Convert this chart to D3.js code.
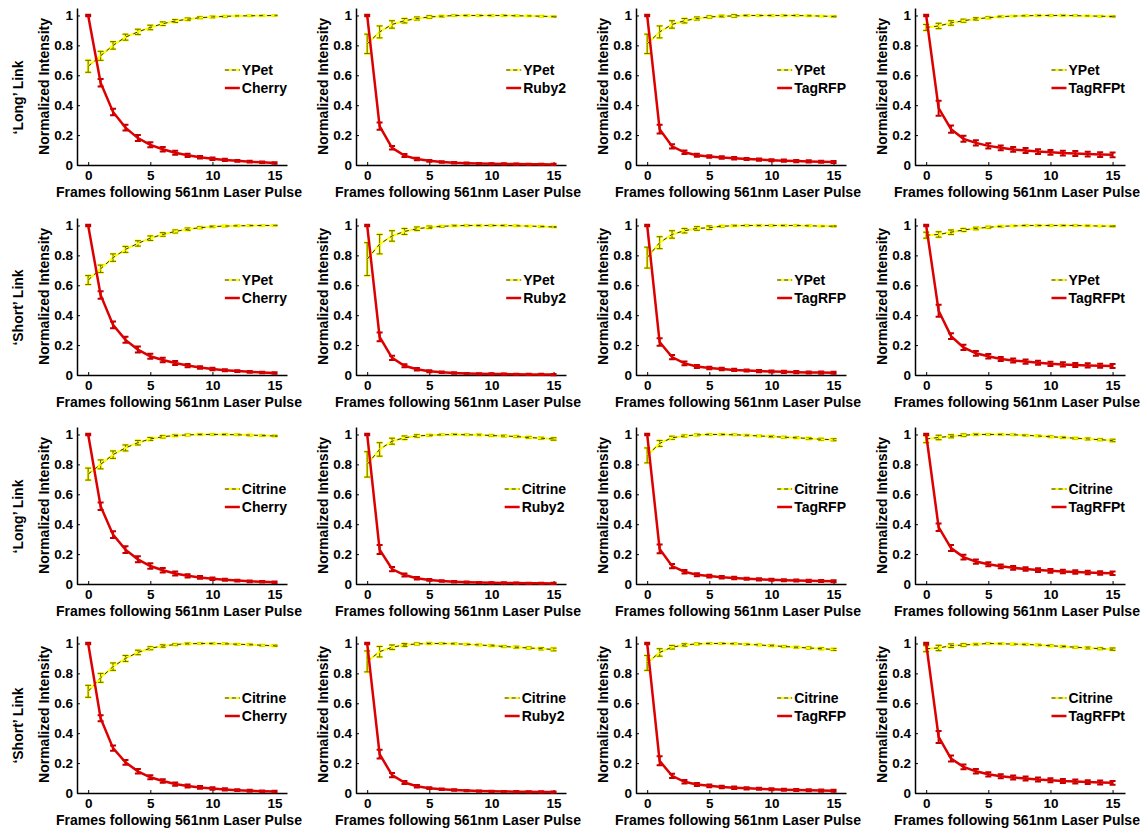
<!DOCTYPE html>
<html>
<head>
<meta charset="utf-8">
<script src="https://cdn.jsdelivr.net/npm/d3@7"></script>
<style>
  body { margin: 0; background: #fff; }
  text { font-family: "Liberation Sans", Arial, sans-serif; font-weight: bold; fill: #000; }
</style>
</head>
<body>
<div id="chart"></div>
<script>
// ---- data ----
var frames = [0,1,2,3,4,5,6,7,8,9,10,11,12,13,14,15];
var rowLabels = ["\u2018Long\u2019 Link", "\u2018Short\u2019 Link", "\u2018Long\u2019 Link", "\u2018Short\u2019 Link"];
var donors = ["YPet", "YPet", "Citrine", "Citrine"];
var acceptors = ["Cherry", "Ruby2", "TagRFP", "TagRFPt"];
var xTicks = [0, 5, 10, 15];
var yTicks = [0, 0.2, 0.4, 0.6, 0.8, 1];

// row 1 : 'Long' link, YPet donor
var donorLongYPet = [
  [0.66,0.73,0.80,0.855,0.89,0.92,0.945,0.963,0.975,0.985,0.99,0.994,0.997,0.998,0.999,1.0],
  [0.81,0.89,0.94,0.965,0.98,0.99,0.995,1.0,1.0,1.0,1.0,1.0,0.998,0.997,0.995,0.992],
  [0.81,0.89,0.94,0.965,0.98,0.99,0.995,0.997,1.0,1.0,1.0,1.0,1.0,0.998,0.996,0.993],
  [0.92,0.93,0.95,0.965,0.977,0.985,0.992,0.996,0.998,1.0,1.0,1.0,0.999,0.997,0.995,0.993]];
var donorErrLongYPet = [
  [0.04,0.03,0.025,0.02,0.018,0.015,0.012,0.01,0.008,0.006,0.005,0.004,0.003,0.003,0.002,0.002],
  [0.065,0.04,0.025,0.015,0.01,0.008,0.005,0.004,0.003,0.003,0.003,0.003,0.003,0.003,0.003,0.003],
  [0.065,0.04,0.025,0.015,0.01,0.007,0.006,0.008,0.004,0.003,0.003,0.003,0.003,0.003,0.003,0.003],
  [0.02,0.018,0.015,0.01,0.008,0.006,0.004,0.003,0.003,0.003,0.003,0.003,0.003,0.003,0.003,0.003]];
var accLongYPet = [
  [1.0,0.55,0.355,0.25,0.18,0.135,0.105,0.082,0.065,0.052,0.042,0.034,0.028,0.022,0.018,0.014],
  [1.0,0.26,0.115,0.063,0.04,0.028,0.02,0.015,0.012,0.01,0.008,0.007,0.006,0.005,0.005,0.004],
  [1.0,0.24,0.125,0.085,0.065,0.057,0.05,0.045,0.04,0.036,0.032,0.029,0.026,0.024,0.022,0.02],
  [1.0,0.38,0.24,0.175,0.148,0.128,0.115,0.104,0.097,0.09,0.085,0.08,0.077,0.073,0.07,0.068]];
var accErrLongYPet = [
  [0.005,0.025,0.022,0.02,0.02,0.017,0.015,0.013,0.011,0.009,0.008,0.007,0.006,0.006,0.005,0.005],
  [0.005,0.025,0.012,0.01,0.008,0.006,0.005,0.005,0.004,0.004,0.004,0.004,0.004,0.004,0.004,0.004],
  [0.005,0.03,0.014,0.012,0.01,0.009,0.008,0.008,0.007,0.007,0.007,0.007,0.007,0.007,0.007,0.007],
  [0.005,0.05,0.025,0.02,0.018,0.017,0.016,0.016,0.016,0.016,0.016,0.016,0.016,0.016,0.016,0.016]];

// row 2 : 'Short' link, YPet donor
var donorShortYPet = [
  [0.635,0.71,0.785,0.84,0.88,0.915,0.94,0.96,0.975,0.985,0.992,0.996,0.998,0.999,1.0,1.0],
  [0.775,0.875,0.93,0.96,0.978,0.988,0.994,0.998,1.0,1.0,1.0,1.0,0.998,0.996,0.993,0.99],
  [0.785,0.885,0.94,0.965,0.98,0.985,0.995,0.998,1.0,1.0,1.0,1.0,1.0,0.998,0.996,0.995],
  [0.935,0.94,0.955,0.97,0.98,0.988,0.994,0.997,1.0,1.0,1.0,1.0,1.0,0.998,0.996,0.995]];
var donorErrShortYPet = [
  [0.03,0.025,0.025,0.02,0.018,0.015,0.012,0.01,0.008,0.006,0.005,0.004,0.003,0.003,0.002,0.002],
  [0.11,0.065,0.035,0.02,0.012,0.008,0.005,0.004,0.003,0.003,0.003,0.003,0.003,0.003,0.003,0.003],
  [0.07,0.04,0.025,0.015,0.012,0.012,0.005,0.004,0.003,0.003,0.003,0.003,0.003,0.003,0.003,0.003],
  [0.02,0.018,0.015,0.01,0.008,0.006,0.004,0.003,0.003,0.003,0.003,0.003,0.003,0.003,0.003,0.003]];
var accShortYPet = [
  [1.0,0.535,0.335,0.235,0.17,0.125,0.1,0.08,0.063,0.05,0.04,0.032,0.026,0.021,0.017,0.014],
  [1.0,0.255,0.115,0.062,0.038,0.025,0.018,0.013,0.01,0.008,0.007,0.006,0.005,0.004,0.004,0.003],
  [1.0,0.22,0.12,0.078,0.057,0.047,0.04,0.034,0.03,0.026,0.023,0.021,0.019,0.017,0.016,0.015],
  [1.0,0.43,0.26,0.185,0.145,0.125,0.107,0.097,0.09,0.082,0.075,0.071,0.067,0.064,0.062,0.06]];
var accErrShortYPet = [
  [0.005,0.025,0.022,0.02,0.02,0.017,0.015,0.013,0.011,0.009,0.008,0.007,0.006,0.006,0.005,0.005],
  [0.005,0.03,0.014,0.01,0.008,0.006,0.005,0.005,0.004,0.004,0.004,0.004,0.004,0.004,0.004,0.004],
  [0.005,0.025,0.014,0.012,0.01,0.009,0.008,0.008,0.007,0.007,0.007,0.007,0.007,0.007,0.007,0.007],
  [0.005,0.04,0.02,0.018,0.016,0.015,0.014,0.014,0.014,0.014,0.014,0.014,0.014,0.014,0.014,0.014]];

// row 3 : 'Long' link, Citrine donor
var donorLongCit = [
  [0.735,0.8,0.865,0.91,0.945,0.97,0.985,0.993,0.997,1.0,1.0,1.0,0.998,0.996,0.993,0.99],
  [0.8,0.9,0.955,0.978,0.99,0.995,0.998,1.0,0.998,0.997,0.993,0.99,0.986,0.98,0.975,0.97],
  [0.86,0.94,0.978,0.99,0.997,1.0,1.0,0.998,0.995,0.99,0.986,0.982,0.978,0.973,0.968,0.965],
  [0.97,0.98,0.988,0.995,1.0,1.0,1.0,0.998,0.995,0.99,0.985,0.98,0.975,0.97,0.965,0.96]];
var donorErrLongCit = [
  [0.04,0.03,0.025,0.02,0.015,0.01,0.008,0.006,0.005,0.004,0.004,0.004,0.004,0.004,0.004,0.004],
  [0.085,0.045,0.02,0.012,0.008,0.005,0.004,0.004,0.004,0.004,0.005,0.005,0.005,0.006,0.006,0.008],
  [0.05,0.02,0.01,0.006,0.005,0.004,0.004,0.004,0.004,0.004,0.005,0.005,0.005,0.006,0.006,0.007],
  [0.025,0.015,0.01,0.008,0.005,0.004,0.004,0.004,0.004,0.004,0.005,0.005,0.005,0.006,0.006,0.008]];
var accLongCit = [
  [1.0,0.52,0.33,0.23,0.165,0.12,0.092,0.07,0.055,0.044,0.035,0.028,0.023,0.018,0.015,0.012],
  [1.0,0.23,0.1,0.06,0.038,0.027,0.02,0.015,0.012,0.01,0.008,0.007,0.006,0.005,0.005,0.004],
  [1.0,0.235,0.12,0.082,0.062,0.053,0.045,0.04,0.035,0.031,0.028,0.025,0.023,0.021,0.02,0.018],
  [1.0,0.38,0.24,0.18,0.15,0.132,0.118,0.108,0.1,0.093,0.088,0.084,0.08,0.077,0.074,0.072]];
var accErrLongCit = [
  [0.005,0.025,0.022,0.022,0.02,0.018,0.015,0.013,0.011,0.009,0.008,0.007,0.006,0.006,0.005,0.005],
  [0.005,0.03,0.014,0.01,0.008,0.006,0.005,0.005,0.004,0.004,0.004,0.004,0.004,0.004,0.004,0.004],
  [0.005,0.03,0.014,0.012,0.01,0.009,0.008,0.008,0.007,0.007,0.007,0.007,0.007,0.007,0.007,0.007],
  [0.005,0.025,0.02,0.016,0.014,0.013,0.012,0.012,0.012,0.012,0.012,0.012,0.012,0.012,0.012,0.012]];

// row 4 : 'Short' link, Citrine donor
var donorShortCit = [
  [0.68,0.77,0.845,0.9,0.94,0.968,0.983,0.993,0.998,1.0,1.0,0.998,0.995,0.992,0.988,0.985],
  [0.88,0.945,0.975,0.99,0.997,1.0,1.0,0.998,0.995,0.99,0.985,0.98,0.975,0.97,0.965,0.96],
  [0.87,0.94,0.975,0.99,0.997,1.0,1.0,0.998,0.995,0.99,0.985,0.98,0.975,0.97,0.965,0.96],
  [0.965,0.97,0.985,0.99,0.995,1.0,0.998,0.996,0.994,0.99,0.985,0.98,0.975,0.97,0.965,0.962]];
var donorErrShortCit = [
  [0.04,0.03,0.025,0.02,0.015,0.01,0.008,0.006,0.005,0.004,0.004,0.004,0.004,0.004,0.004,0.004],
  [0.07,0.035,0.015,0.01,0.006,0.005,0.004,0.004,0.004,0.004,0.005,0.005,0.006,0.006,0.007,0.009],
  [0.05,0.025,0.012,0.008,0.005,0.004,0.004,0.004,0.004,0.004,0.005,0.005,0.005,0.006,0.006,0.007],
  [0.02,0.018,0.012,0.008,0.005,0.004,0.004,0.004,0.004,0.004,0.005,0.005,0.005,0.006,0.006,0.008]];
var accShortCit = [
  [1.0,0.5,0.3,0.205,0.145,0.105,0.08,0.06,0.047,0.037,0.03,0.024,0.019,0.015,0.012,0.01],
  [1.0,0.26,0.12,0.07,0.045,0.032,0.025,0.02,0.016,0.013,0.011,0.01,0.009,0.008,0.007,0.006],
  [1.0,0.215,0.115,0.075,0.057,0.048,0.04,0.035,0.031,0.028,0.025,0.022,0.02,0.018,0.016,0.015],
  [1.0,0.375,0.23,0.175,0.145,0.125,0.112,0.104,0.097,0.09,0.085,0.08,0.077,0.073,0.07,0.068]];
var accErrShortCit = [
  [0.005,0.02,0.018,0.016,0.015,0.013,0.012,0.011,0.01,0.009,0.008,0.007,0.006,0.006,0.005,0.005],
  [0.005,0.03,0.014,0.01,0.008,0.006,0.005,0.005,0.004,0.004,0.004,0.004,0.004,0.004,0.004,0.004],
  [0.005,0.03,0.014,0.012,0.01,0.009,0.008,0.008,0.007,0.007,0.007,0.007,0.007,0.007,0.007,0.007],
  [0.005,0.04,0.02,0.016,0.015,0.014,0.013,0.013,0.013,0.013,0.013,0.013,0.013,0.013,0.013,0.013]];

var donorRows = [donorLongYPet, donorShortYPet, donorLongCit, donorShortCit];
var donorErrRows = [donorErrLongYPet, donorErrShortYPet, donorErrLongCit, donorErrShortCit];
var accRows = [accLongYPet, accShortYPet, accLongCit, accShortCit];
var accErrRows = [accErrLongYPet, accErrShortYPet, accErrLongCit, accErrShortCit];

// ---- layout ----
var colLeft = [77, 356, 636, 915],
    rowBottom = [165, 375, 584, 793],
    plotW = 210,
    plotH = 157;

var yellow = "#ffff00", red = "#dd0000";

var svg = d3.select("#chart").append("svg")
    .attr("width", 1148)
    .attr("height", 833);

function drawSeries(g, x, y, vals, errs, kind) {
  var line = d3.line()
      .x(function(d, i) { return x(frames[i]); })
      .y(function(d) { return y(d); });

  var eb = g.append("g");
  vals.forEach(function(v, i) {
    var cx = x(frames[i]), y0 = y(v - errs[i]), y1 = y(v + errs[i]);
    var p = "M" + cx + "," + y0 + "V" + y1 +
            "M" + (cx - 3) + "," + y0 + "H" + (cx + 3) +
            "M" + (cx - 3) + "," + y1 + "H" + (cx + 3);
    if (kind === "donor") {
      eb.append("path").attr("d", p).attr("stroke", yellow).attr("stroke-width", 2.5).attr("fill", "none");
      eb.append("path").attr("d", p).attr("stroke", "#6b6b00").attr("stroke-width", 1).attr("fill", "none");
    } else {
      eb.append("path").attr("d", p).attr("stroke", "#c00000").attr("stroke-width", 2).attr("fill", "none");
    }
  });

  if (kind === "donor") {
    g.append("path").datum(vals).attr("d", line)
      .attr("fill", "none").attr("stroke", yellow).attr("stroke-width", 2);
    g.append("path").datum(vals).attr("d", line)
      .attr("fill", "none").attr("stroke", "#333").attr("stroke-width", 1)
      .attr("stroke-dasharray", "4,4");
  } else {
    g.append("path").datum(vals).attr("d", line)
      .attr("fill", "none").attr("stroke", red).attr("stroke-width", 2.5);
  }
}

for (var r = 0; r < 4; r++) {
  for (var c = 0; c < 4; c++) {
    var left = colLeft[c], bottom = rowBottom[r];
    var x = d3.scaleLinear().domain([-0.9, 16]).range([left, left + plotW]);
    var y = d3.scaleLinear().domain([0, 1.05]).range([bottom, bottom - plotH]);
    var g = svg.append("g");

    // axes
    var xa = g.append("g").attr("transform", "translate(0," + bottom + ")")
      .call(d3.axisBottom(x).tickValues(xTicks).tickSizeInner(-3).tickSizeOuter(0).tickPadding(5));
    var ya = g.append("g").attr("transform", "translate(" + left + ",0)")
      .call(d3.axisLeft(y).tickValues(yTicks).tickFormat(d3.format("~g")).tickSizeInner(-3).tickSizeOuter(0).tickPadding(4));
    [xa, ya].forEach(function(a) {
      a.select(".domain").attr("stroke", "#000").attr("stroke-width", 1.5);
      a.selectAll(".tick line").attr("stroke", "#000");
      a.selectAll(".tick text").attr("font-size", 13.5).attr("font-family", null);
    });

    drawSeries(g, x, y, donorRows[r][c], donorErrRows[r][c], "donor");
    drawSeries(g, x, y, accRows[r][c], accErrRows[r][c], "acceptor");

    // axis labels
    g.append("text")
      .attr("x", left + plotW / 2 - 3).attr("y", bottom + 32)
      .attr("text-anchor", "middle").attr("font-size", 14)
      .text("Frames following 561nm Laser Pulse");
    g.append("text")
      .attr("transform", "translate(" + (left - 33) + "," + (bottom - plotH / 2) + ") rotate(-90)")
      .attr("text-anchor", "middle").attr("dominant-baseline", "central").attr("font-size", 14)
      .text("Normalized Intensity");
    if (c === 0) {
      g.append("text")
        .attr("transform", "translate(18," + (bottom - plotH / 2 + 11) + ") rotate(-90)")
        .attr("text-anchor", "middle").attr("dominant-baseline", "central").attr("font-size", 14)
        .text(rowLabels[r]);
    }

    // legend
    var leg = g.append("g");
    var names = [donors[r], acceptors[c]];
    var t = names.map(function(n, i) {
      return leg.append("text").attr("y", bottom - plotH + 62 + i * 18)
        .attr("dominant-baseline", "central").attr("font-size", 14).text(n);
    });
    var tw = d3.max(t, function(s) { return s.node().getComputedTextLength(); });
    var lx = left + plotW - tw - 17;
    t.forEach(function(s) { s.attr("x", lx + 17); });
    var ly0 = bottom - plotH + 62, ly1 = ly0 + 18;
    leg.append("line").attr("x1", lx).attr("x2", lx + 15).attr("y1", ly0).attr("y2", ly0)
      .attr("stroke", yellow).attr("stroke-width", 2);
    leg.append("line").attr("x1", lx).attr("x2", lx + 15).attr("y1", ly0).attr("y2", ly0)
      .attr("stroke", "#333").attr("stroke-width", 1).attr("stroke-dasharray", "4,3");
    leg.append("line").attr("x1", lx).attr("x2", lx + 15).attr("y1", ly1).attr("y2", ly1)
      .attr("stroke", red).attr("stroke-width", 2.5);
  }
}
</script>
</body>
</html>
